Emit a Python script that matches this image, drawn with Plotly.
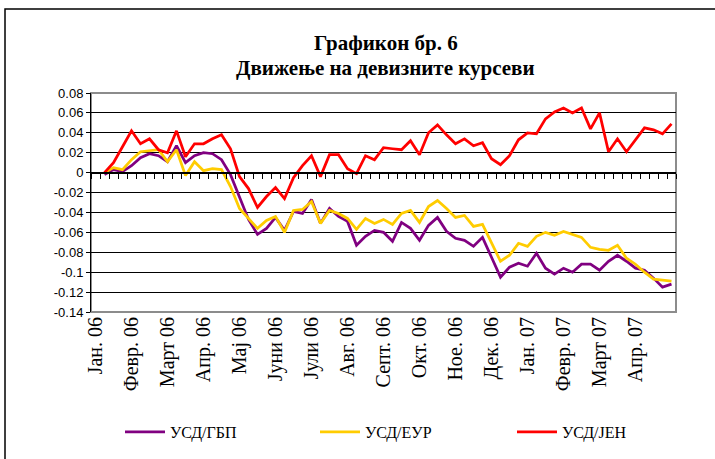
import plotly.graph_objects as go

# ---- data (weekly observations, week index 1..64 on a 65-slot category axis) ----
weeks = list(range(1, 65))

month_labels = ["Јан. 06", "Февр. 06", "Март 06", "Апр. 06", "Мај 06", "Јуни 06",
                "Јули 06", "Авг. 06", "Септ. 06", "Окт. 06", "Ное. 06", "Дек. 06",
                "Јан. 07", "Февр. 07", "Март 07", "Апр. 07"]
month_positions = [0, 4, 8, 12, 16, 20, 24, 28, 32, 36, 40, 44, 48, 52, 56, 60]

usd_gbp = [-0.002, 0.003, 0.001, 0.007, 0.015, 0.019, 0.017, 0.011, 0.027, 0.010,
           0.017, 0.020, 0.019, 0.013, -0.002, -0.024, -0.047, -0.062, -0.056, -0.045,
           -0.058, -0.039, -0.041, -0.027, -0.051, -0.036, -0.044, -0.049, -0.073, -0.064,
           -0.058, -0.060, -0.069, -0.050, -0.056, -0.068, -0.053, -0.045, -0.059, -0.066,
           -0.068, -0.074, -0.065, -0.085, -0.105, -0.095, -0.091, -0.094, -0.081, -0.096,
           -0.102, -0.096, -0.100, -0.092, -0.092, -0.098, -0.089, -0.083, -0.089, -0.096,
           -0.098, -0.106, -0.115, -0.112]

usd_eur = [0.000, 0.005, 0.003, 0.013, 0.021, 0.022, 0.023, 0.011, 0.023, -0.003,
           0.011, 0.002, 0.004, 0.003, -0.014, -0.036, -0.046, -0.056, -0.048, -0.044,
           -0.060, -0.038, -0.037, -0.029, -0.051, -0.038, -0.041, -0.046, -0.057, -0.046,
           -0.051, -0.047, -0.052, -0.041, -0.038, -0.050, -0.034, -0.028, -0.036, -0.045,
           -0.043, -0.054, -0.052, -0.071, -0.089, -0.083, -0.071, -0.074, -0.064, -0.060,
           -0.063, -0.059, -0.062, -0.065, -0.075, -0.077, -0.078, -0.073, -0.086, -0.092,
           -0.100, -0.107, -0.108, -0.109]

usd_jpy = [0.000, 0.010, 0.026, 0.042, 0.029, 0.034, 0.023, 0.020, 0.042, 0.016,
           0.029, 0.029, 0.034, 0.038, 0.024, -0.004, -0.016, -0.035, -0.024, -0.015,
           -0.026, -0.005, 0.007, 0.017, -0.004, 0.018, 0.018, 0.004, -0.001, 0.017,
           0.013, 0.025, 0.024, 0.023, 0.032, 0.018, 0.040, 0.048, 0.038, 0.029,
           0.034, 0.027, 0.030, 0.014, 0.008, 0.017, 0.033, 0.040, 0.039, 0.054,
           0.061, 0.065, 0.060, 0.065, 0.044, 0.060, 0.021, 0.034, 0.021, 0.033,
           0.045, 0.043, 0.039, 0.049]

y_ticks = [0.08, 0.06, 0.04, 0.02, 0, -0.02, -0.04, -0.06, -0.08, -0.1, -0.12, -0.14]
y_tick_text = ["0.08", "0.06", "0.04", "0.02", "0", "-0.02", "-0.04", "-0.06",
               "-0.08", "-0.1", "-0.12", "-0.14"]

series = [("УСД/ГБП", usd_gbp, "#800080", "legend"),
          ("УСД/ЕУР", usd_eur, "#FFCC00", "legend2"),
          ("УСД/ЈЕН", usd_jpy, "#FF0000", "legend3")]

n_slots = 65
SERIF = "Liberation Serif, Times New Roman, serif"
SANS = "Liberation Sans, Arial, sans-serif"

fig = go.Figure()
for name, vals, col, lg in series:
    fig.add_trace(go.Scatter(x=weeks, y=vals, mode="lines", name=name, legend=lg,
                             line=dict(color=col, width=2.75)))

# helper trace for the zero-crossing category axis (tick marks)
fig.add_trace(go.Scatter(x=[weeks[0], weeks[-1]], y=[None, None], xaxis="x2",
                         showlegend=False, hoverinfo="skip"))

boundaries = [i - 0.5 for i in range(n_slots + 1)]

def legend_box(xpx):
    return dict(x=(xpx - 91) / 585, xanchor="left", y=-0.548, yanchor="middle",
                orientation="h", itemwidth=40,
                font=dict(family=SERIF, size=16, color="black"),
                bgcolor="rgba(0,0,0,0)", borderwidth=0)

fig.update_layout(
    width=715, height=459,
    margin=dict(l=91, r=39, t=93, b=147, autoexpand=False),
    paper_bgcolor="white", plot_bgcolor="white",
    showlegend=True,
    legend=legend_box(120),
    legend2=legend_box(315),
    legend3=legend_box(512),
    xaxis=dict(range=[-0.5, n_slots - 0.5], tickmode="array",
               tickvals=month_positions, ticktext=month_labels, tickangle=-90,
               ticks="", showgrid=False, zeroline=False, showline=False,
               automargin=False,
               tickfont=dict(family=SERIF, size=20, color="black")),
    xaxis2=dict(range=[-0.5, n_slots - 0.5], overlaying="x", anchor="free",
                position=0.14 / 0.22, side="bottom",
                tickmode="array", tickvals=boundaries, showticklabels=False,
                ticks="outside", ticklen=5, tickwidth=1, tickcolor="black",
                showline=True, linecolor="black", linewidth=2,
                showgrid=False, zeroline=False),
    yaxis=dict(range=[-0.14, 0.08], tickmode="array", tickvals=y_ticks,
               ticktext=y_tick_text, ticks="outside", ticklen=4, tickcolor="black",
               showline=True, linecolor="black", linewidth=1,
               showgrid=True, gridcolor="black", gridwidth=1,
               zeroline=False, automargin=False,
               tickfont=dict(family=SANS, size=13, color="black")),
    shapes=[
        dict(type="rect", xref="paper", yref="paper", x0=0, y0=0, x1=1, y1=1,
             line=dict(color="#8c8c8c", width=2), layer="below"),
        dict(type="rect", xref="paper", yref="paper",
             x0=-0.147, y0=-0.72, x1=1.1, y1=1.384,
             line=dict(color="black", width=1.5), layer="below"),
    ],
    annotations=[
        dict(text="<b>Графикон бр. 6</b>", xref="paper", yref="paper",
             x=0.504, y=1.228, xanchor="center", yanchor="middle", showarrow=False,
             font=dict(family=SERIF, size=21, color="black")),
        dict(text="<b>Движење на девизните курсеви</b>", xref="paper", yref="paper",
             x=0.504, y=1.114, xanchor="center", yanchor="middle", showarrow=False,
             font=dict(family=SERIF, size=21, color="black")),
    ],
)

fig.write_html("out.html", config={"displayModeBar": False},
               post_script="document.body.style.margin='0';document.body.style.padding='0';")
